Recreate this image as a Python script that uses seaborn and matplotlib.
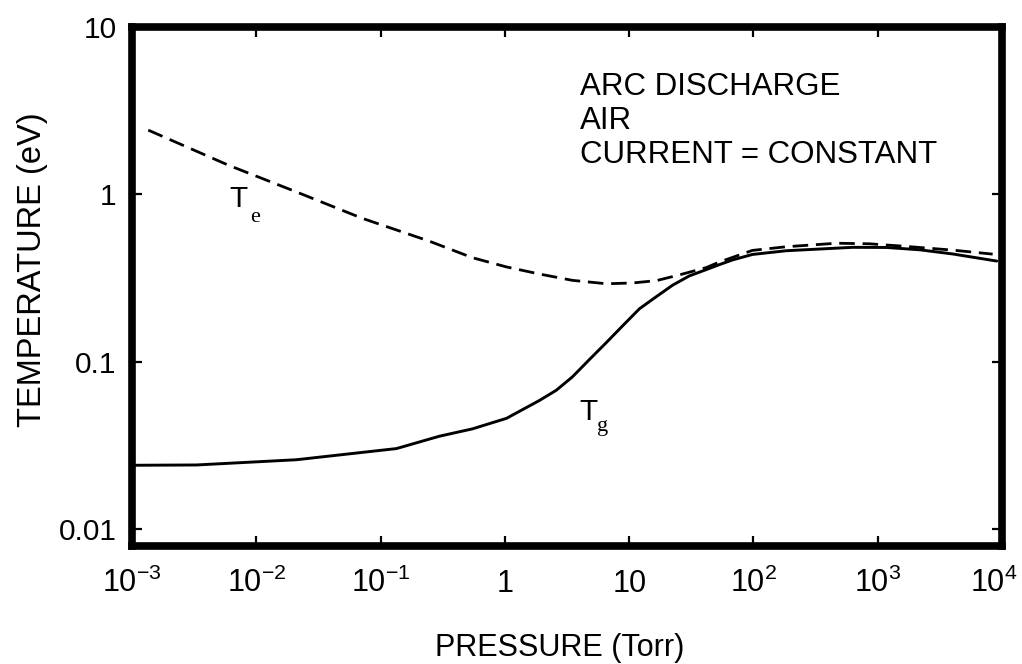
import matplotlib
matplotlib.use("Agg")
import matplotlib.pyplot as plt
import matplotlib.transforms as mtransforms
from matplotlib.ticker import NullLocator
import seaborn as sns

# values: pressure in Torr, temperature in eV
TG_PRESSURE = [1.0e-3, 3.3e-3, 0.021, 0.134, 0.297, 0.547, 1.03, 1.89, 2.59,
               3.49, 4.78, 6.55, 8.81, 12.1, 16.6, 22.3, 30.5, 41.8, 53.2,
               67.7, 98.0, 184.0, 627.0, 1178.0, 2170.0, 4000.0, 9060.0]
TG_TEMPERATURE = [0.0240, 0.0241, 0.0259, 0.0302, 0.0358, 0.0396, 0.0458,
                  0.0585, 0.0674, 0.081, 0.1028, 0.130, 0.163, 0.207, 0.245,
                  0.286, 0.3255, 0.355, 0.380, 0.405, 0.437, 0.460, 0.482,
                  0.481, 0.466, 0.440, 0.399]

TE_PRESSURE = [1.35e-3, 6.0e-3, 0.0209, 0.071, 0.246, 0.547, 1.03, 1.89, 3.49,
               6.55, 10.6, 16.6, 25.4, 41.8, 53.2, 98.0, 184.0, 466.0, 859.0,
               1585.0, 4000.0, 8400.0]
TE_TEMPERATURE = [2.42, 1.49, 1.035, 0.719, 0.525, 0.418, 0.368, 0.334, 0.306,
                  0.292, 0.295, 0.305, 0.330, 0.365, 0.394, 0.462, 0.486, 0.510,
                  0.506, 0.490, 0.464, 0.439]

X_TICKS = [1e-3, 1e-2, 1e-1, 1, 10, 1e2, 1e3, 1e4]
X_TICK_LABELS = ["$10^{-3}$", "$10^{-2}$", "$10^{-1}$", "1", "10",
                 "$10^{2}$", "$10^{3}$", "$10^{4}$"]
Y_TICKS = [0.01, 0.1, 1, 10]
Y_TICK_LABELS = ["0.01", "0.1", "1", "10"]

NOTE_LINES = ["ARC DISCHARGE", "AIR", "CURRENT = CONSTANT"]


def main() -> None:
    sns.set_theme(style="white")
    plt.rcParams["font.family"] = ["Liberation Sans", "DejaVu Sans"]
    plt.rcParams["mathtext.default"] = "regular"
    for key in ["text.color", "axes.labelcolor", "xtick.color", "ytick.color"]:
        plt.rcParams[key] = "black"

    fig = plt.figure(figsize=(10.22, 6.64), dpi=100)
    ax = fig.add_axes([0.1292, 0.1777, 0.8513, 0.7816])
    ax.set(xscale="log", yscale="log")

    sns.lineplot(x=TG_PRESSURE, y=TG_TEMPERATURE, ax=ax, color="black", lw=2.1)
    sns.lineplot(x=TE_PRESSURE, y=TE_TEMPERATURE, ax=ax, color="black", lw=2.0,
                 linestyle=(0, (5.6, 2.8)))

    ax.set_xlim(1e-3, 1e4)
    ax.set_ylim(0.0079, 10)
    ax.set_xticks(X_TICKS, X_TICK_LABELS)
    ax.set_yticks(Y_TICKS, Y_TICK_LABELS)
    ax.xaxis.set_minor_locator(NullLocator())
    ax.yaxis.set_minor_locator(NullLocator())

    ax.tick_params(axis="both", which="major", direction="in", length=7,
                   width=1.6, color="black", top=True, right=True,
                   bottom=True, left=True)
    ax.tick_params(axis="x", labelsize=22, pad=33)
    ax.tick_params(axis="y", labelsize=21.5, pad=11)
    for label in ax.get_xticklabels():
        label.set_verticalalignment("baseline")
    # pull the last label in a little so it stays on the canvas
    last = ax.xaxis.get_major_ticks()[-1].label1
    last.set_transform(last.get_transform()
                       + mtransforms.ScaledTranslation(-8 / 100, 0, fig.dpi_scale_trans))

    for spine in ax.spines.values():
        spine.set_linewidth(5.5)
        spine.set_color("black")

    ax.set_xlabel("PRESSURE (Torr)", fontsize=22)
    ax.set_ylabel("TEMPERATURE (eV)", fontsize=23.5)
    ax.xaxis.set_label_coords(0.491, -0.168)
    ax.yaxis.set_label_coords(-0.097, 0.532)

    # curve labels, T with a lowered serif subscript
    ax.text(6.1e-3, 0.84, "T", fontsize=21.5, ha="left", va="baseline")
    ax.annotate("e", xy=(6.1e-3, 0.84), xytext=(15, -11), textcoords="offset points",
                fontsize=16, family="Liberation Serif", va="baseline")
    ax.text(4.0, 0.0448, "T", fontsize=21.5, ha="left", va="baseline")
    ax.annotate("g", xy=(4.0, 0.0448), xytext=(12.5, -8), textcoords="offset points",
                fontsize=16, family="Liberation Serif", va="baseline")

    for i, line in enumerate(NOTE_LINES):
        ax.text(0.515, 0.869 - i * 0.0655, line, transform=ax.transAxes,
                fontsize=22.5, ha="left", va="baseline")

    fig.savefig("out.png", dpi=100)
    plt.close(fig)


if __name__ == "__main__":
    main()
